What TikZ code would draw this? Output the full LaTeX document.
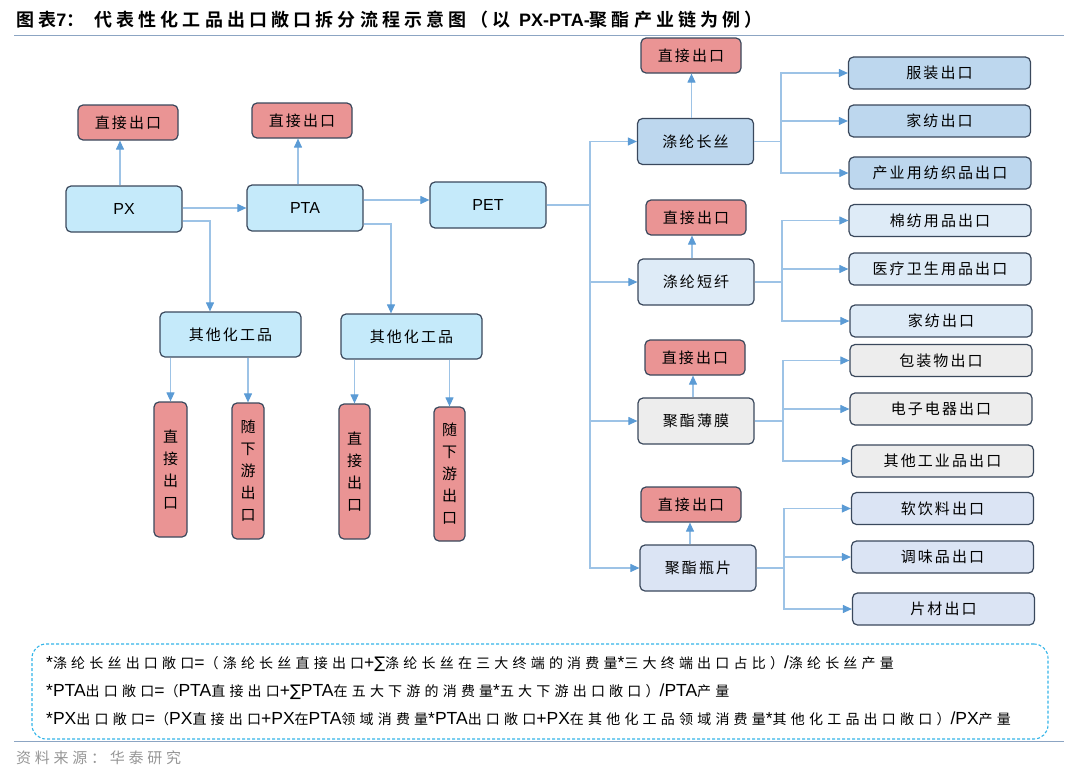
\documentclass[tikz,border=0pt]{standalone}
\usepackage{fontspec}
\setmainfont{Liberation Sans}
\newfontfamily\cjk[LetterSpace=14]{Noto Sans CJK SC}
\newfontfamily\cjkn{Noto Sans CJK SC}
\newfontfamily\cjkt[LetterSpace=30]{Noto Sans CJK SC}
\newfontfamily\cjks[LetterSpace=25]{Noto Sans CJK SC}
\newfontfamily\cjkb[LetterSpace=23]{Noto Sans CJK SC Bold}
\newfontfamily\symf{DejaVu Sans}
\usetikzlibrary{arrows.meta}
\newcommand\zh[1]{{\cjkt\fontsize{14}{16}\selectfont #1}}
\newcommand\sig{{\symf\fontsize{16}{18}\selectfont ∑}}
\definecolor{bordc}{RGB}{58,72,92}
\definecolor{redf}{RGB}{234,148,148}
\definecolor{cyanf}{RGB}{197,234,250}
\definecolor{bluef}{RGB}{189,215,238}
\definecolor{pblue}{RGB}{222,235,247}
\definecolor{grayf}{RGB}{237,237,237}
\definecolor{lavf}{RGB}{219,228,244}
\definecolor{linec}{RGB}{157,195,230}
\definecolor{tipc}{RGB}{91,155,213}
\definecolor{dashc}{RGB}{50,180,232}
\definecolor{rulec}{RGB}{140,165,195}
\definecolor{srcc}{RGB}{150,150,150}
\tikzset{
  box/.style={draw=bordc, line width=1.2pt, rounded corners=5pt, inner sep=0pt,
    font=\cjk\fontsize{15}{18}\selectfont, text=black},
  lbox/.style={box, font=\fontsize{16}{18}\selectfont},
  vbox/.style={box, align=center, font=\cjkn\fontsize{15}{22}\selectfont},
  rbox/.style={box, minimum width=182pt, minimum height=32pt},
  dbox/.style={box, fill=redf, minimum width=100pt, minimum height=35pt},
  mbox/.style={box, minimum width=116pt, minimum height=46pt},
  arr/.style={draw=linec, line width=1.1pt, -{Triangle[length=9pt,width=8pt,color=tipc]}},
  ln/.style={draw=linec, line width=1.1pt},
  formula/.style={anchor=west, inner sep=0pt, font=\fontsize{17.5}{18}\selectfont}
}
\begin{document}
\begin{tikzpicture}[x=1pt,y=-1pt]
\useasboundingbox (0,0) rectangle (1080,774);
% title
\node[anchor=west, inner sep=0pt, font=\fontsize{18}{20}\selectfont] (title) at (16,20)
  {{\cjkb 图表}{\bfseries 7}{\cjkb ：\hspace{10pt}代表性化工品出口敞口拆分流程示意图（以 }{\bfseries PX-PTA-}{\cjkb 聚酯产业链为例）}};
\draw[rulec, line width=1pt] (14,35) -- (1064,35);

% left part
\node[dbox] (d1) at (128,122.5) {直接出口};
\node[lbox, fill=cyanf, minimum width=116pt, minimum height=46pt] (px) at (124,209) {PX};
\node[dbox] (d2) at (302,120.5) {直接出口};
\node[lbox, fill=cyanf, minimum width=116pt, minimum height=46pt] (pta) at (305,208) {PTA};
\node[lbox, fill=cyanf, minimum width=116pt, minimum height=46pt] (pet) at (488,205) {PET};
\node[box, fill=cyanf, minimum width=141pt, minimum height=45pt] (ot1) at (230.5,334.5) {其他化工品};
\node[box, fill=cyanf, minimum width=141pt, minimum height=45pt] (ot2) at (411.5,336.5) {其他化工品};
\node[vbox, fill=redf, minimum width=33pt, minimum height=135pt] (v1) at (170.5,469.5) {直\\接\\出\\口};
\node[vbox, fill=redf, minimum width=32pt, minimum height=136pt] (v2) at (248,471) {随\\下\\游\\出\\口};
\node[vbox, fill=redf, minimum width=31pt, minimum height=135pt] (v3) at (354.5,471.5) {直\\接\\出\\口};
\node[vbox, fill=redf, minimum width=31pt, minimum height=134pt] (v4) at (449.5,474) {随\\下\\游\\出\\口};

\coordinate (k1) at (210,221);
\coordinate (k2) at (391,224);
\draw[arr] ([xshift=-4pt]px.north) -- ([xshift=-4pt]px.north |- d1.south);
\draw[arr] ([xshift=-7pt]pta.north) -- ([xshift=-7pt]pta.north |- d2.south);
\draw[arr] (px.east |- pta.west) -- (pta.west);
\draw[arr] ([yshift=8pt]pta.east) -- ([yshift=8pt]pta.east -| pet.west);
\draw[arr] (px.east |- k1) -- (k1) -- (k1 |- ot1.north);
\draw[arr] (pta.east |- k2) -- (k2) -- (k2 |- ot2.north);
\draw[arr] (ot1.south -| v1.north) -- (v1.north);
\draw[arr] (ot1.south -| v2.north) -- (v2.north);
\draw[arr] (ot2.south -| v3.north) -- (v3.north);
\draw[arr] (ot2.south -| v4.north) -- (v4.north);

% right part
\node[dbox] (dA) at (691,55.5) {直接出口};
\node[mbox, fill=bluef] (lcs) at (695.5,141.5) {涤纶长丝};
\node[rbox, fill=bluef] (r1) at (939.5,73) {服装出口};
\node[rbox, fill=bluef] (r2) at (939.5,121) {家纺出口};
\node[rbox, fill=bluef] (r3) at (940,173) {产业用纺织品出口};

\node[dbox] (dB) at (696,217.5) {直接出口};
\node[mbox, fill=pblue] (dx) at (696,282) {涤纶短纤};
\node[rbox, fill=pblue] (r4) at (940,220.5) {棉纺用品出口};
\node[rbox, fill=pblue] (r5) at (940,269) {医疗卫生用品出口};
\node[rbox, fill=pblue] (r6) at (941,321) {家纺出口};

\node[dbox] (dC) at (695,357.5) {直接出口};
\node[mbox, fill=grayf] (bm) at (696,421) {聚酯薄膜};
\node[rbox, fill=grayf] (r7) at (941,360.5) {包装物出口};
\node[rbox, fill=grayf] (r8) at (941,409) {电子电器出口};
\node[rbox, fill=grayf] (r9) at (942.5,461) {其他工业品出口};

\node[dbox] (dD) at (691,504.5) {直接出口};
\node[mbox, fill=lavf] (pp) at (698,568) {聚酯瓶片};
\node[rbox, fill=lavf] (r10) at (942.5,508.5) {软饮料出口};
\node[rbox, fill=lavf] (r11) at (942.5,557) {调味品出口};
\node[rbox, fill=lavf] (r12) at (943.5,609) {片材出口};

\coordinate (trk) at (590,206);
\coordinate (bA) at (781,0);
\coordinate (bB) at (782,0);
\coordinate (bC) at (783,0);
\coordinate (bD) at (784,0);
\draw[ln] (pet.east) -- (pet.east -| trk);
\foreach \t in {lcs,dx,bm,pp}{\draw[arr] (trk) |- (\t.west);}
\draw[arr] ([xshift=-4pt]lcs.north) -- ([xshift=-4pt]lcs.north |- dA.south);
\draw[arr] ([xshift=-4pt]dx.north) -- ([xshift=-4pt]dx.north |- dB.south);
\draw[arr] ([xshift=-3pt]bm.north) -- ([xshift=-3pt]bm.north |- dC.south);
\draw[arr] ([xshift=-8pt]pp.north) -- ([xshift=-8pt]pp.north |- dD.south);
\draw[ln] (lcs.east) -- (lcs.east -| bA);
\draw[ln] (dx.east) -- (dx.east -| bB);
\draw[ln] (bm.east) -- (bm.east -| bC);
\draw[ln] (pp.east) -- (pp.east -| bD);
\foreach \t in {r1,r2,r3}{\draw[arr] (lcs.east -| bA) |- (\t.west);}
\foreach \t in {r4,r5,r6}{\draw[arr] (dx.east -| bB) |- (\t.west);}
\foreach \t in {r7,r8,r9}{\draw[arr] (bm.east -| bC) |- (\t.west);}
\foreach \t in {r10,r11,r12}{\draw[arr] (pp.east -| bD) |- (\t.west);}

% formula box
\node[draw=dashc, line width=1.1pt, dash pattern=on 3pt off 2pt, rounded corners=14pt,
  minimum width=1016pt, minimum height=95pt, inner sep=0pt] (note) at (540,691.5) {};
\node[formula] (f1) at (46,664) {*\zh{涤纶长丝出口敞口}=\zh{（涤纶长丝直接出口}+\sig\zh{涤纶长丝在三大终端的消费量}*\zh{三大终端出口占比）}/\zh{涤纶长丝产量}};
\node[formula] (f2) at (46,692) {*PTA\zh{出口敞口}=\zh{（}PTA\zh{直接出口}+\sig PTA\zh{在五大下游的消费量}*\zh{五大下游出口敞口）}/PTA\zh{产量}};
\node[formula] (f3) at (46,719) {*PX\zh{出口敞口}=\zh{（}PX\zh{直接出口}+PX\zh{在}PTA\zh{领域消费量}*PTA\zh{出口敞口}+PX\zh{在其他化工品领域消费量}*\zh{其他化工品出口敞口）}/PX\zh{产量}};
\draw[rulec, line width=1pt] (14,741) -- (1064,741);
\node[anchor=west, inner sep=0pt, text=srcc, font=\cjks\fontsize{15}{16}\selectfont] (src) at (16,758) {资料来源：华泰研究};
\end{tikzpicture}
\end{document}
